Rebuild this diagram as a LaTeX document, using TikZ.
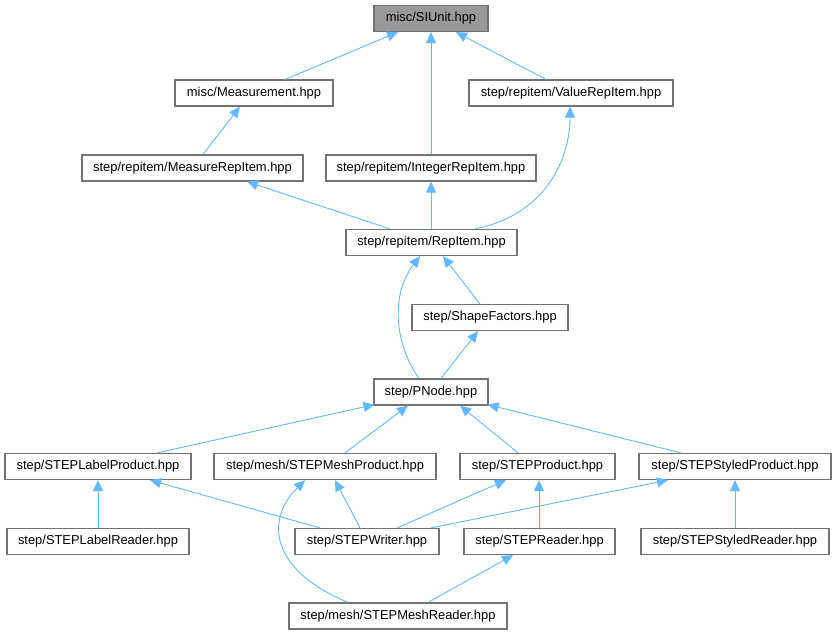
\documentclass[tikz,border=0pt]{standalone}
\usepackage{fontspec}
\setmainfont{Liberation Sans}
\usetikzlibrary{arrows.meta}
\definecolor{edgecol}{HTML}{63B8FF}
\definecolor{bordercol}{HTML}{737373}
\definecolor{rootfill}{HTML}{999999}
\begin{document}
\begin{tikzpicture}[x=1pt,y=-1pt,
  box/.style={draw=bordercol,line width=1.2pt,fill=white,rectangle,inner sep=0pt,minimum height=26pt,
    font=\fontsize{12.9}{15}\selectfont,text=black},
  rootbox/.style={box,fill=rootfill},
  edge/.style={draw=edgecol,line width=0.9pt,{Triangle[length=11pt,width=10pt]}-}]
\useasboundingbox (0,0) rectangle (836,635);
% nodes
\node[rootbox,minimum width=114pt] (siunit) at (431,18.5) {misc/SIUnit.hpp};
\node[box,minimum width=158pt] (meas) at (254,93) {misc/Measurement.hpp};
\node[box,minimum width=204pt] (value) at (571,93) {step/repitem/ValueRepItem.hpp};
\node[box,minimum width=221pt] (measrep) at (192.5,168) {step/repitem/MeasureRepItem.hpp};
\node[box,minimum width=210pt] (intrep) at (431,168) {step/repitem/IntegerRepItem.hpp};
\node[box,minimum width=171pt] (repitem) at (431.5,242.5) {step/repitem/RepItem.hpp};
\node[box,minimum width=156pt] (shape) at (490,317.5) {step/ShapeFactors.hpp};
\node[box,minimum width=114pt] (pnode) at (431,392) {step/PNode.hpp};
\node[box,minimum width=186pt] (labelprod) at (98,466.5) {step/STEPLabelProduct.hpp};
\node[box,minimum width=222pt] (meshprod) at (325,466.5) {step/mesh/STEPMeshProduct.hpp};
\node[box,minimum width=155pt] (stepprod) at (537.5,466.5) {step/STEPProduct.hpp};
\node[box,minimum width=192pt] (styledprod) at (735,466.5) {step/STEPStyledProduct.hpp};
\node[box,minimum width=182pt] (labelreader) at (98,541.5) {step/STEPLabelReader.hpp};
\node[box,minimum width=144pt] (writer) at (367,541.5) {step/STEPWriter.hpp};
\node[box,minimum width=151pt] (reader) at (539.5,541.5) {step/STEPReader.hpp};
\node[box,minimum width=188pt] (styledreader) at (735,541.5) {step/STEPStyledReader.hpp};
\node[box,minimum width=218pt] (meshreader) at (398,616) {step/mesh/STEPMeshReader.hpp};
% edges (arrow at parent end)
\draw[edge] ([xshift=-33pt]siunit.south) -- ([xshift=31pt]meas.north);
\draw[edge] (siunit.south) -- (intrep.north);
\draw[edge] ([xshift=25pt]siunit.south) -- ([xshift=-25pt]value.north);
\draw[edge] ([xshift=-14pt]meas.south) -- ([xshift=10.5pt]measrep.north);
\draw[edge] ([xshift=54.5pt]measrep.south) -- ([xshift=-41.5pt]repitem.north);
\draw[edge] (intrep.south) -- ([xshift=-0.5pt]repitem.north);
\draw[edge] ([xshift=-1pt]value.south) .. controls (570,160) and (545,215) .. ([xshift=43.5pt]repitem.north);
\draw[edge] ([xshift=11.5pt]repitem.south) -- ([xshift=-10pt]shape.north);
\draw[edge] ([xshift=-11.5pt]repitem.south) .. controls (390,295) and (395,345) .. ([xshift=-12pt]pnode.north);
\draw[edge] ([xshift=-12pt]shape.south) -- ([xshift=10pt]pnode.north);
\draw[edge] ([xshift=1pt,yshift=1pt]pnode.south west) -- ([xshift=59pt]labelprod.north);
\draw[edge] ([xshift=-23pt]pnode.south) -- ([xshift=20pt]meshprod.north);
\draw[edge] ([xshift=29pt]pnode.south) -- ([xshift=-19.5pt]stepprod.north);
\draw[edge] ([xshift=-1pt,yshift=1pt]pnode.south east) -- ([xshift=-54pt]styledprod.north);
\draw[edge] (labelprod.south) -- (labelreader.north);
\draw[edge] ([xshift=52pt]labelprod.south) -- ([xshift=-47pt]writer.north);
\draw[edge] ([xshift=10pt]meshprod.south) -- ([xshift=-7pt]writer.north);
\draw[edge] ([xshift=-31.5pt]stepprod.south) -- ([xshift=30pt]writer.north);
\draw[edge] ([xshift=-67pt]styledprod.south) -- ([xshift=64pt]writer.north);
\draw[edge] ([xshift=1.5pt]stepprod.south) -- ([xshift=-0.5pt]reader.north);
\draw[edge] (styledprod.south) -- (styledreader.north);
\draw[edge] ([xshift=-20pt]meshprod.south) .. controls (265,520) and (270,570) .. ([xshift=-50pt]meshreader.north);
\draw[edge] ([xshift=-26.5pt]reader.south) -- ([xshift=30pt]meshreader.north);
\end{tikzpicture}
\end{document}
